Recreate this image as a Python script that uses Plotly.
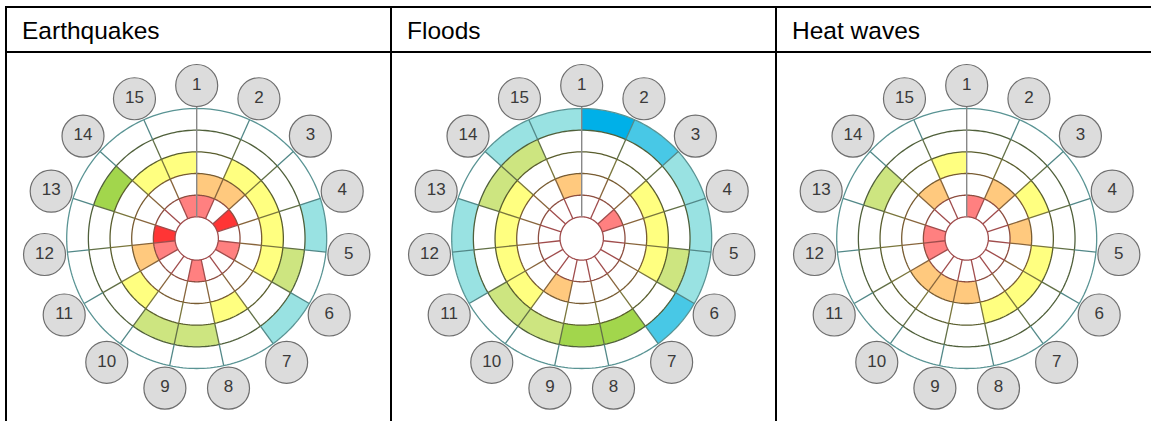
import numpy as np
import plotly.graph_objects as go

# ---------------- data ----------------
titles = ["Earthquakes", "Floods", "Heat waves"]
sector_labels = [str(i) for i in range(1, 16)]

# cell level per sector (1..15); 0 = empty, 1 = light, 2 = strong, 3 = strongest
# ring 1 = innermost (red), ring 5 = outermost (blue)
eq_r1 = [1, 0, 2, 0, 1, 0, 0, 1, 0, 0, 1, 2, 0, 0, 1]
eq_r2 = [1, 1, 0, 0, 0, 0, 0, 0, 0, 0, 1, 0, 0, 0, 0]
eq_r3 = [0, 1, 1, 1, 1, 0, 1, 0, 0, 1, 0, 0, 0, 1, 1]
eq_r4 = [0, 0, 0, 0, 1, 0, 0, 1, 1, 0, 0, 0, 2, 0, 0]
eq_r5 = [0, 0, 0, 1, 0, 1, 0, 0, 0, 0, 0, 0, 0, 0, 0]

fl_r1 = [0, 0, 1, 0, 0, 0, 0, 0, 0, 0, 0, 0, 0, 0, 0]
fl_r2 = [0, 0, 0, 0, 0, 0, 0, 0, 1, 0, 0, 0, 0, 0, 1]
fl_r3 = [0, 0, 1, 1, 1, 0, 0, 0, 0, 1, 1, 1, 1, 0, 0]
fl_r4 = [0, 0, 0, 0, 1, 0, 2, 2, 1, 1, 0, 0, 1, 1, 0]
fl_r5 = [3, 2, 1, 1, 1, 2, 0, 0, 0, 0, 1, 1, 0, 1, 1]

hw_r1 = [1, 0, 0, 0, 0, 0, 0, 0, 0, 0, 1, 1, 0, 0, 0]
hw_r2 = [0, 1, 0, 1, 0, 0, 0, 1, 1, 1, 0, 0, 0, 1, 0]
hw_r3 = [0, 0, 1, 0, 1, 1, 1, 0, 0, 0, 0, 0, 0, 0, 1]
hw_r4 = [0, 0, 0, 0, 0, 0, 0, 0, 0, 0, 0, 0, 1, 0, 0]
hw_r5 = [0, 0, 0, 0, 0, 0, 0, 0, 0, 0, 0, 0, 0, 0, 0]

panels = [
    [eq_r1, eq_r2, eq_r3, eq_r4, eq_r5],
    [fl_r1, fl_r2, fl_r3, fl_r4, fl_r5],
    [hw_r1, hw_r2, hw_r3, hw_r4, hw_r5],
]

# ---------------- styles ----------------
ring_colors = [
    {1: "#ff8080", 2: "#ff3535"},
    {1: "#ffc97e"},
    {1: "#ffff80"},
    {1: "#cde580", 2: "#a2d64c"},
    {1: "#99e2e2", 2: "#48c8e6", 3: "#00b0e8"},
]
circle_line_colors = ["#a04c4c", "#8d4e40", "#785c32", "#5a5e2e", "#50603b", "#5a9494"]
spoke_seg_colors = ["#a04c4c", "#88653c", "#7a763c", "#627046", "#528888"]
zero_spoke_color = "#888888"

W, H = 1151, 421
col_left = [6, 391, 776]
center_off = 190.7
center_y_top = 238.5
unit_px = 130 / 6.0
RMAX = 8.4
label_r = 153 / unit_px
n_sec = len(sector_labels)
step = 360 / n_sec

fig = go.Figure()
for p, rings in enumerate(panels):
    pname = "polar" if p == 0 else f"polar{p + 1}"
    # cells
    th, base, cols = [], [], []
    for ri, levels in enumerate(rings):
        for si, lv in enumerate(levels):
            if lv:
                th.append(si * step + step / 2)
                base.append(ri + 1)
                cols.append(ring_colors[ri][lv])
    fig.add_trace(go.Barpolar(
        theta=th, r=[1] * len(th), base=base, width=[step] * len(th),
        marker=dict(color=cols, line=dict(width=0)), subplot=pname,
        hoverinfo="skip", showlegend=False))
    # ring circles
    tt = np.linspace(0, 360, 241)
    for k in range(6):
        fig.add_trace(go.Scatterpolar(
            theta=tt, r=np.full_like(tt, k + 1), mode="lines",
            line=dict(color=circle_line_colors[k], width=1.3),
            subplot=pname, hoverinfo="skip", showlegend=False, cliponaxis=False))
    # spokes by ring segment
    for k in range(5):
        st, sr = [], []
        for si in range(1, n_sec):
            a = si * step
            st += [a, a, None]
            sr += [k + 1, k + 2, None]
        fig.add_trace(go.Scatterpolar(
            theta=st, r=sr, mode="lines",
            line=dict(color=spoke_seg_colors[k], width=1.3),
            subplot=pname, hoverinfo="skip", showlegend=False, cliponaxis=False))
    fig.add_trace(go.Scatterpolar(
        theta=[0, 0], r=[1, 6.1], mode="lines",
        line=dict(color=zero_spoke_color, width=1.4),
        subplot=pname, hoverinfo="skip", showlegend=False, cliponaxis=False))
    # numbered circles
    fig.add_trace(go.Scatterpolar(
        theta=[i * step for i in range(n_sec)], r=[label_r] * n_sec,
        mode="markers+text", text=sector_labels, textposition="middle center",
        textfont=dict(family="Liberation Sans, Arial", size=17, color="#3a3a3a"),
        marker=dict(size=42, color="#dcdcdc", line=dict(color="#6e6e6e", width=1.2)),
        subplot=pname, hoverinfo="skip", showlegend=False, cliponaxis=False))

    cx = col_left[p] + center_off
    rad = RMAX * unit_px
    cyb = H - center_y_top
    fig.update_layout(**{pname: dict(
        domain=dict(x=[(cx - rad) / W, (cx + rad) / W], y=[(cyb - rad) / H, (cyb + rad) / H]),
        bgcolor="rgba(0,0,0,0)",
        radialaxis=dict(range=[0, RMAX], visible=False, showgrid=False, showline=False,
                        showticklabels=False, ticks=""),
        angularaxis=dict(rotation=90, direction="clockwise", visible=False, showgrid=False,
                         showline=False, showticklabels=False, ticks=""),
    )})

    fig.add_annotation(x=(col_left[p] + 14) / W, y=1 - 30 / H, xref="paper", yref="paper",
                       text=titles[p], showarrow=False, xanchor="left", yanchor="middle",
                       font=dict(family="Liberation Sans, Arial", size=24.5, color="#000000"))

# table lines
shapes = []
shapes.append(dict(type="line", xref="paper", yref="paper", x0=col_left[0] / W, x1=1,
                   y0=1 - 7 / H, y1=1 - 7 / H, line=dict(color="black", width=2)))
shapes.append(dict(type="line", xref="paper", yref="paper", x0=col_left[0] / W, x1=1,
                   y0=1 - 52 / H, y1=1 - 52 / H, line=dict(color="black", width=2)))
for xl in col_left:
    shapes.append(dict(type="line", xref="paper", yref="paper", x0=xl / W, x1=xl / W,
                       y0=0, y1=1 - 6 / H, line=dict(color="black", width=2)))

fig.update_layout(width=W, height=H, margin=dict(l=0, r=0, t=0, b=0),
                  paper_bgcolor="white", plot_bgcolor="white", shapes=shapes,
                  showlegend=False)
fig.write_html("out.html", config={"displayModeBar": False, "staticPlot": True},
               post_script="document.body.style.margin='0';document.body.style.overflow='hidden';")
